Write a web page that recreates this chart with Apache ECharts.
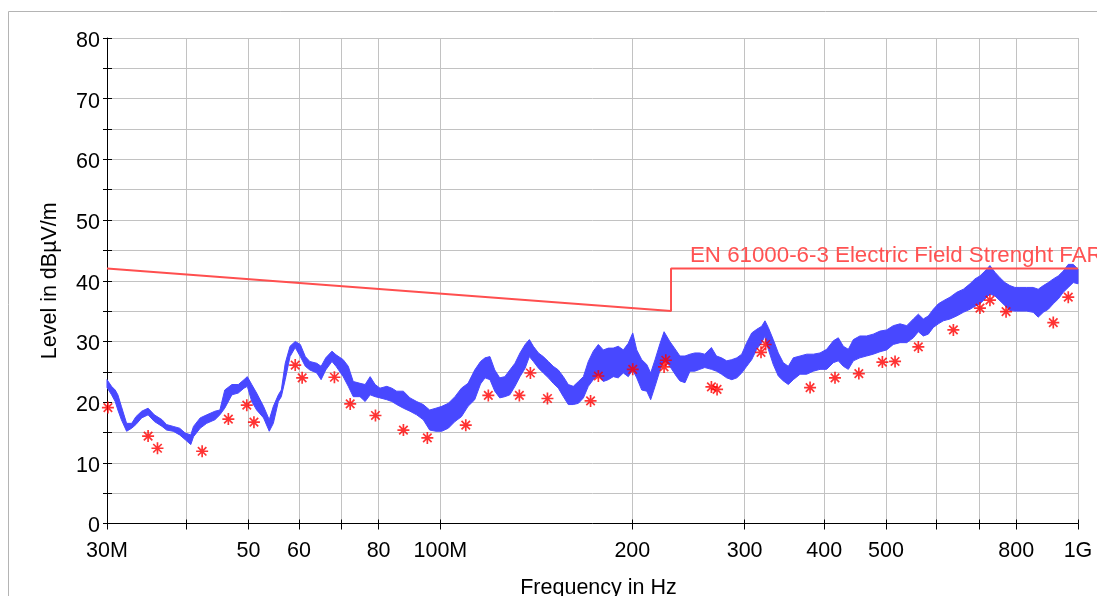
<!DOCTYPE html>
<html>
<head>
<meta charset="utf-8">
<title>Radiated emission scan</title>
<script src="https://cdn.jsdelivr.net/npm/echarts@6/dist/echarts.min.js"></script>
<style>
  html, body { margin: 0; padding: 0; background: #ffffff; }
  #chart { width: 1097px; height: 596px; }
</style>
</head>
<body>
<div id="chart"></div>
<script>
// Peak scan envelope: frequency (MHz) with upper and lower edge of the trace (dBµV/m)
const traceFreq = [
  30.0, 30.5, 30.9, 31.2, 31.6, 32.2, 32.8, 33.3, 34.0, 34.8, 35.6, 36.6, 37.2, 38.1, 39.0, 39.8,
  40.6, 41.0, 42.0, 43.0, 44.3, 45.1, 45.9, 47.1, 48.2, 49.2, 49.8, 50.6, 51.5, 52.8, 53.9, 54.7,
  55.7, 56.3, 57.1, 58.1, 59.2, 60.3, 61.4, 62.4, 64.0, 65.0, 66.1, 67.6, 68.6, 70.4, 71.7, 73.0,
  74.8, 76.2, 77.6, 79.0, 80.4, 82.4, 83.9, 85.4, 87.5, 89.6, 91.8, 94.0, 96.2, 98.4, 100.5, 102.9,
  105.4, 107.9, 110.5, 113.2, 115.6, 117.5, 119.6, 121.7, 123.9, 126.2, 128.5, 130.9, 133.3, 135.8, 137.9, 139.9,
  142.5, 145.0, 147.7, 150.3, 153.1, 155.9, 158.7, 161.6, 164.6, 167.6, 170.6, 173.7, 176.9, 180.1, 183.4, 186.7,
  190.1, 193.6, 197.1, 200.3, 203.2, 206.9, 210.7, 213.7, 217.1, 221.1, 224.3, 229.0, 234.7, 237.5, 241.9, 246.3,
  250.6, 255.2, 259.8, 266.1, 271.0, 276.0, 281.2, 286.4, 291.7, 296.9, 302.3, 307.8, 313.4, 319.1, 322.9, 326.8,
  332.7, 338.8, 345.0, 351.3, 357.7, 366.5, 375.4, 384.6, 393.9, 403.5, 413.3, 420.8, 428.5, 436.3, 444.3, 454.9,
  466.0, 477.4, 489.1, 501.1, 513.2, 525.9, 538.8, 551.8, 561.8, 572.0, 582.4, 593.0, 603.9, 614.9, 630.0, 645.4,
  661.0, 677.0, 689.3, 701.8, 714.6, 727.6, 740.9, 754.4, 768.1, 782.1, 796.3, 810.8, 830.6, 850.6, 866.1, 882.2,
  898.3, 914.6, 931.3, 948.2, 965.5, 983.1, 1000
];
const traceHigh = [
  23.7, 22.6, 22.0, 21.2, 19.3, 16.5, 16.5, 17.6, 18.5, 19.0, 17.9, 17.1, 16.3, 16.0, 15.7, 14.9,
  14.6, 16.0, 17.4, 17.9, 18.5, 18.7, 22.0, 22.9, 22.9, 23.7, 24.2, 22.9, 21.5, 19.3, 17.1, 19.3,
  21.2, 22.0, 26.4, 29.2, 30.0, 29.5, 27.5, 26.7, 26.4, 25.9, 27.3, 28.4, 27.8, 27.0, 25.9, 23.4,
  23.1, 22.9, 24.2, 22.9, 22.3, 22.6, 22.3, 21.8, 21.8, 20.7, 20.1, 19.6, 18.7, 19.0, 19.3, 19.8,
  20.9, 22.3, 23.1, 25.3, 26.7, 27.3, 27.5, 25.3, 24.0, 24.2, 25.3, 26.4, 28.1, 29.5, 30.3, 29.2,
  28.1, 27.5, 26.7, 25.9, 25.3, 24.2, 22.9, 22.6, 23.4, 24.2, 26.7, 28.4, 29.5, 28.6, 28.9, 28.9,
  29.2, 28.6, 29.7, 31.4, 28.6, 27.0, 26.2, 24.8, 27.0, 29.7, 31.6, 30.0, 28.4, 27.6, 27.6, 27.9,
  28.1, 28.1, 27.9, 29.0, 27.6, 27.3, 26.8, 27.0, 27.3, 27.9, 29.8, 31.4, 32.0, 32.5, 33.4, 32.3,
  30.3, 28.1, 26.5, 25.9, 27.3, 27.6, 27.9, 27.9, 28.1, 28.7, 30.1, 30.6, 29.2, 28.7, 30.3, 30.9,
  30.9, 31.2, 31.7, 31.9, 32.6, 32.9, 32.6, 33.7, 34.5, 33.7, 34.2, 35.3, 36.2, 36.7, 37.3, 38.1,
  38.6, 39.5, 40.3, 40.8, 41.6, 42.5, 41.4, 40.5, 39.7, 39.2, 38.9, 38.9, 38.9, 38.9, 38.6, 39.2,
  39.7, 40.3, 40.8, 41.6, 42.7, 42.7, 41.9
];
const traceLow = [
  22.4, 21.2, 20.1, 18.7, 17.1, 15.2, 15.7, 16.3, 17.4, 17.9, 16.8, 16.0, 15.4, 15.2, 14.6, 13.8,
  13.0, 14.3, 15.7, 16.5, 17.1, 17.9, 19.0, 21.2, 21.5, 22.3, 22.6, 20.1, 18.7, 17.4, 15.2, 16.5,
  20.1, 20.9, 23.7, 27.5, 29.0, 27.5, 25.9, 25.3, 24.8, 23.7, 25.3, 26.7, 25.9, 24.2, 22.6, 20.9,
  20.9, 20.1, 21.2, 20.9, 20.7, 20.4, 20.1, 19.6, 19.0, 18.5, 17.9, 17.1, 15.4, 15.2, 15.2, 15.7,
  16.8, 17.6, 19.3, 20.4, 23.0, 24.0, 23.7, 21.8, 20.7, 20.9, 21.2, 22.6, 24.2, 25.6, 27.5, 26.7,
  25.6, 24.8, 24.0, 23.1, 22.3, 20.9, 19.6, 19.6, 19.8, 20.7, 22.6, 23.7, 24.5, 23.4, 23.7, 24.2,
  24.0, 24.8, 24.2, 25.3, 24.0, 22.0, 21.8, 20.4, 22.6, 25.3, 27.0, 25.9, 24.2, 23.5, 23.2, 25.1,
  25.1, 25.4, 25.7, 25.4, 25.1, 24.6, 24.0, 23.7, 24.0, 24.8, 25.9, 27.0, 28.7, 29.8, 30.9, 28.7,
  26.2, 24.3, 23.5, 22.9, 23.7, 24.6, 24.6, 25.1, 25.4, 25.4, 26.5, 26.8, 25.9, 25.4, 26.8, 27.3,
  27.6, 27.9, 28.3, 28.6, 29.5, 29.8, 29.8, 30.6, 31.6, 30.9, 31.2, 32.3, 32.9, 33.4, 33.7, 34.2,
  34.8, 35.3, 35.8, 36.2, 37.0, 37.8, 37.5, 36.7, 35.9, 35.1, 35.0, 35.0, 35.0, 34.8, 34.0, 34.8,
  35.3, 36.2, 37.0, 38.1, 38.9, 39.7, 39.5
];

// Final quasi-peak readings (MHz, dBµV/m)
const markerFreq = [
  30.1, 34.8, 36.0, 42.3, 46.5, 49.7, 51.0, 59.2, 60.7, 68.2, 72.2, 79.1, 87.5, 95.4, 109.6, 118.9,
  133.0, 138.4, 147.2, 172.0, 176.9, 200.3, 224.3, 225.7, 266.1, 271.6, 318.3, 323.7, 380.0, 415.8,
  453.2, 493.4, 516.5, 561.8, 637.6, 701.8, 727.6, 771.2, 914.6, 965.5
];
const markerLevel = [
  19.1, 14.4, 12.4, 11.9, 17.2, 19.5, 16.7, 26.1, 24.0, 24.1, 19.7, 17.8, 15.4, 14.1, 16.2, 21.1,
  21.1, 24.8, 20.6, 20.2, 24.3, 25.4, 25.8, 26.9, 22.5, 22.1, 28.2, 29.5, 22.4, 24.0,
  24.7, 26.6, 26.7, 29.1, 31.9, 35.5, 36.8, 34.9, 33.1, 37.3
];

// Limit line
const limitFreq = [30, 230, 230, 1000];
const limitLevel = [42, 35, 42, 42];
const limitName = 'EN 61000-6-3 Electric Field Strenght FAR';

// Axis ticks and labels
const freqTicks = [30, 40, 50, 60, 70, 80, 100, 200, 300, 400, 500, 600, 700, 800, 1000];
const freqLabels = [30, 50, 60, 80, 100, 200, 300, 400, 500, 800, 1000];
const freqLabelText = ['30M', '50', '60', '80', '100M', '200', '300', '400', '500', '800', '1G'];
const levelMin = 0, levelMax = 80, levelStep = 5;
const xTitle = 'Frequency in Hz';
const yTitle = 'Level in dBµV/m';

const FONT = "'Liberation Sans', Arial, Helvetica, sans-serif";
const GRID = { left: 107, top: 38, width: 971, height: 485.5, containLabel: false, outerBoundsMode: 'none' };

// asterisk marker: four thin bars crossing at the centre
const ASTERISK = 'path://M0 8.6L20 8.6L20 11.4L0 11.4Z' +
  'M8.6 0L11.4 0L11.4 20L8.6 20Z' +
  'M3.92 1.94L18.06 16.08L16.08 18.06L1.94 3.92Z' +
  'M18.06 3.92L3.92 18.06L1.94 16.08L16.08 1.94Z';

function freqText(v) {
  const i = freqLabels.indexOf(Math.round(v));
  return i >= 0 ? freqLabelText[i] : '';
}

const chart = echarts.init(document.getElementById('chart'), null, { renderer: 'canvas' });

const baseX = { type: 'log', logBase: 10, min: 30, max: 1000 };
const baseY = { type: 'value', min: levelMin, max: levelMax, interval: levelStep };

chart.setOption({
  animation: false,
  backgroundColor: '#ffffff',
  grid: [Object.assign({}, GRID), Object.assign({}, GRID)],
  xAxis: [
    Object.assign({}, baseX, {
      gridIndex: 0,
      position: 'bottom',
      axisLine: { show: true, onZero: false, lineStyle: { color: '#000', width: 1 } },
      axisTick: { show: true, customValues: freqTicks, length: 6, inside: false, lineStyle: { color: '#000', width: 1 } },
      axisLabel: {
        show: true, customValues: freqLabels, formatter: freqText, margin: 17,
        fontSize: 21.5, color: '#000', fontFamily: FONT
      },
      splitLine: { show: true, lineStyle: { color: '#c2c2c2', width: 1 } },
      minorTick: { show: false }, minorSplitLine: { show: false },
      name: xTitle, nameLocation: 'middle', nameGap: 54,
      nameTextStyle: { fontSize: 21.5, color: '#000', fontFamily: FONT, padding: [0, 0, 0, 12] }
    }),
    Object.assign({}, baseX, {
      gridIndex: 1,
      position: 'bottom',
      axisLine: { show: false },
      axisTick: { show: true, customValues: freqTicks, length: 4, inside: true, lineStyle: { color: '#000', width: 1 } },
      axisLabel: { show: false },
      splitLine: { show: false }
    })
  ],
  yAxis: [
    Object.assign({}, baseY, {
      gridIndex: 0,
      position: 'left',
      axisLine: { show: true, onZero: false, lineStyle: { color: '#000', width: 1 } },
      axisTick: { show: true, length: 4, inside: false, lineStyle: { color: '#000', width: 1 } },
      axisLabel: {
        show: true, margin: 7, fontSize: 21.5, color: '#000', fontFamily: FONT,
        verticalAlign: 'top', lineHeight: 6,
        formatter: v => (v % 10 === 0 ? String(v) : '')
      },
      splitLine: { show: true, lineStyle: { color: '#c2c2c2', width: 1 } },
      name: yTitle, nameLocation: 'middle', nameGap: 46, nameRotate: 90,
      nameTextStyle: { fontSize: 21.5, color: '#000', fontFamily: FONT }
    }),
    Object.assign({}, baseY, {
      gridIndex: 1,
      position: 'left',
      axisLine: { show: false },
      axisTick: { show: true, length: 5, inside: true, lineStyle: { color: '#000', width: 1 } },
      axisLabel: { show: false },
      splitLine: { show: false }
    })
  ],
  graphic: [
    {
      type: 'rect', silent: true, z: -10,
      shape: { x: 8.5, y: 11.5, width: 1300, height: 800 },
      style: { fill: 'none', stroke: '#b4b4b4', lineWidth: 1 }
    },
    {
      type: 'text', silent: true, z: 10,
      style: {
        x: 690, y: 256, text: limitName, fill: '#ff5252',
        font: '22.3px ' + FONT, verticalAlign: 'middle', align: 'left'
      }
    }
  ],
  series: [
    {
      name: 'Peak',
      type: 'custom',
      xAxisIndex: 0, yAxisIndex: 0,
      z: 2,
      data: [[traceFreq[0], traceHigh[0]]],
      encode: { x: 0, y: 1 },
      renderItem: function (params, api) {
        const pts = [];
        for (let i = 0; i < traceFreq.length; i++) {
          pts.push(api.coord([traceFreq[i], traceHigh[i]]));
        }
        for (let i = traceFreq.length - 1; i >= 0; i--) {
          pts.push(api.coord([traceFreq[i], traceLow[i]]));
        }
        return {
          type: 'polygon',
          shape: { points: pts },
          style: { fill: '#4848ff', stroke: '#4848ff', lineWidth: 1 }
        };
      }
    },
    {
      name: limitName,
      type: 'line',
      xAxisIndex: 0, yAxisIndex: 0,
      z: 3,
      symbol: 'none',
      data: limitFreq.map((f, i) => [f, limitLevel[i]]),
      lineStyle: { color: '#ff4f4f', width: 2 }
    },
    {
      name: 'QuasiPeak',
      type: 'scatter',
      xAxisIndex: 0, yAxisIndex: 0,
      z: 4,
      symbol: ASTERISK,
      symbolSize: 12,
      data: markerFreq.map((f, i) => [f, markerLevel[i]]),
      itemStyle: { color: '#ff0000' }
    }
  ]
});
</script>
</body>
</html>
